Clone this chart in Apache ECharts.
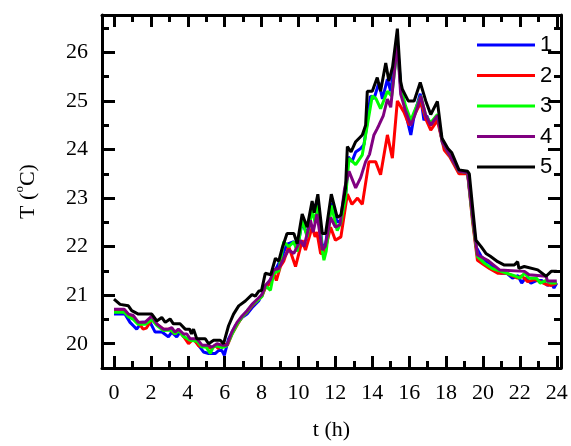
<!DOCTYPE html>
<html>
<head>
<meta charset="utf-8">
<script src="https://cdn.jsdelivr.net/npm/echarts@6/dist/echarts.min.js"></script>
<style>html,body{margin:0;padding:0;background:#fff}#c{width:571px;height:446px}</style>
</head>
<body>
<div id="c"></div>
<script>
const seriesNames = ['1', '2', '3', '4', '5'];
const seriesColors = ['#0000ff', '#ff0000', '#00ff00', '#800080', '#000000'];
const xMajorTicks = [0, 2, 4, 6, 8, 10, 12, 14, 16, 18, 20, 22, 24];
const xMinorTicks = [1, 3, 5, 7, 9, 11, 13, 15, 17, 19, 21, 23];
const yMajorTicks = [20, 21, 22, 23, 24, 25, 26];
const yMinorTicks = [20.5, 21.5, 22.5, 23.5, 24.5, 25.5, 26.5];

// [t (h), T (°C)]
const s1 = [[0,20.61],[0.6,20.61],[0.87,20.44],[1.05,20.37],[1.23,20.3],[1.5,20.44],[1.96,20.44],[2.23,20.24],[2.6,20.24],[2.95,20.14],[3.13,20.24],[3.4,20.14],[3.58,20.24],[3.8,20.14],[4.04,20.07],[4.4,20.07],[4.58,19.97],[4.85,19.83],[5.13,19.8],[5.5,19.8],[5.67,19.86],[5.85,19.86],[5.98,19.76],[6.21,20.1],[6.58,20.37],[6.94,20.54],[7.21,20.61],[7.48,20.74],[7.84,20.88],[8.2,21.15],[8.48,21.32],[8.75,21.52],[9.02,21.72],[9.38,22.05],[9.75,22.1],[9.93,21.95],[10.2,22.5],[10.47,22.25],[10.74,22.8],[11.05,22.9],[11.29,22.0],[11.47,22.05],[11.78,22.9],[12.1,22.5],[12.3,22.55],[12.55,23.0],[12.7,23.85],[12.9,23.75],[13.1,23.95],[13.37,24.02],[13.55,24.1],[13.73,24.57],[13.9,25.1],[14.1,25.05],[14.36,25.38],[14.55,25.04],[14.82,25.45],[15.0,25.2],[15.1,25.5],[15.36,26.2],[15.54,25.3],[15.7,25.0],[15.9,24.6],[16.09,24.3],[16.27,24.7],[16.6,25.15],[16.8,24.6],[16.95,24.7],[17.17,24.5],[17.53,24.7],[17.8,24.15],[18.1,23.95],[18.7,23.55],[19.17,23.52],[19.44,22.6],[19.62,22.0],[19.9,21.8],[20.16,21.7],[20.4,21.65],[20.7,21.5],[21.0,21.45],[21.3,21.45],[21.6,21.35],[21.9,21.4],[22.1,21.25],[22.3,21.35],[22.6,21.25],[22.9,21.3],[23.2,21.3],[23.5,21.2],[23.7,21.25],[23.85,21.15],[24.0,21.25]];
const s2 = [[0,20.7],[0.55,20.7],[0.78,20.6],[1.05,20.55],[1.3,20.45],[1.58,20.3],[1.75,20.32],[2.05,20.5],[2.32,20.4],[2.68,20.3],[3.0,20.3],[3.31,20.2],[3.49,20.28],[3.77,20.15],[4.04,20.0],[4.3,20.1],[4.6,19.95],[5.0,19.95],[5.3,19.9],[5.5,19.97],[5.65,19.9],[5.9,20.0],[6.15,19.97],[6.4,20.2],[6.7,20.4],[6.94,20.55],[7.21,20.65],[7.48,20.78],[7.75,20.88],[8.02,20.98],[8.2,21.15],[8.48,21.25],[8.66,21.45],[8.8,21.3],[9.02,21.59],[9.2,21.7],[9.47,22.0],[9.84,21.59],[10.2,22.13],[10.38,21.93],[10.74,22.4],[10.9,22.2],[11.0,22.3],[11.2,21.86],[11.4,21.86],[11.74,22.4],[12.0,22.13],[12.3,22.2],[12.65,23.08],[12.9,22.87],[13.2,23.0],[13.46,22.87],[13.82,23.75],[14.18,23.75],[14.45,23.48],[14.82,24.3],[15.09,23.82],[15.36,25.0],[15.72,24.77],[16.0,24.5],[16.27,24.7],[16.63,24.97],[16.9,24.63],[17.17,24.4],[17.53,24.6],[17.9,23.99],[18.2,23.85],[18.7,23.5],[19.17,23.5],[19.44,22.5],[19.7,21.72],[20.07,21.62],[20.35,21.55],[20.8,21.45],[21.3,21.45],[21.88,21.35],[22.1,21.4],[22.42,21.28],[22.8,21.32],[23.1,21.28],[23.42,21.22],[23.7,21.2],[24.0,21.25]];
const s3 = [[0,20.65],[0.55,20.65],[0.8,20.55],[1.05,20.5],[1.3,20.4],[1.7,20.4],[2.05,20.5],[2.32,20.38],[2.68,20.27],[3.1,20.28],[3.31,20.2],[3.5,20.27],[3.77,20.15],[4.13,20.07],[4.5,20.05],[4.77,19.93],[5.0,19.93],[5.22,19.8],[5.4,19.95],[5.6,19.95],[5.86,19.92],[6.1,19.95],[6.4,20.2],[6.7,20.42],[6.94,20.55],[7.21,20.66],[7.48,20.8],[7.75,20.88],[8.02,20.97],[8.2,21.2],[8.48,21.1],[8.66,21.45],[8.93,21.5],[9.2,22.1],[9.47,22.0],[9.75,22.1],[9.93,21.9],[10.2,22.55],[10.47,22.2],[10.74,22.75],[10.9,22.5],[11.05,22.85],[11.3,21.9],[11.38,21.72],[11.5,21.9],[11.78,22.85],[12.1,22.33],[12.3,22.5],[12.55,23.0],[12.74,23.82],[13.1,23.69],[13.46,23.89],[13.64,24.3],[14.0,25.1],[14.2,25.05],[14.45,24.84],[14.82,25.2],[15.05,25.1],[15.36,26.1],[15.54,25.3],[15.8,24.9],[16.09,24.6],[16.3,24.8],[16.63,25.1],[16.9,24.7],[17.17,24.55],[17.53,24.72],[17.8,24.15],[18.1,23.95],[18.7,23.55],[19.17,23.52],[19.44,22.55],[19.7,21.8],[20.1,21.65],[20.5,21.55],[20.9,21.5],[21.3,21.45],[21.7,21.4],[22.0,21.35],[22.25,21.45],[22.5,21.35],[22.9,21.35],[23.1,21.25],[23.4,21.3],[23.7,21.25],[24.0,21.25]];
const s4 = [[0,20.71],[0.55,20.71],[0.78,20.61],[1.05,20.58],[1.32,20.44],[1.68,20.44],[2.05,20.57],[2.32,20.41],[2.68,20.3],[2.95,20.3],[3.13,20.33],[3.31,20.24],[3.49,20.3],[3.77,20.2],[3.95,20.2],[4.13,20.1],[4.5,20.1],[4.77,19.97],[5.1,19.97],[5.31,19.93],[5.58,20.0],[5.86,19.97],[6.12,19.97],[6.39,20.24],[6.67,20.44],[6.94,20.57],[7.21,20.68],[7.48,20.81],[7.75,20.91],[8.02,21.01],[8.2,21.2],[8.48,21.32],[8.66,21.52],[8.93,21.55],[9.2,21.76],[9.47,21.93],[9.75,21.86],[10.1,22.13],[10.3,22.0],[10.65,22.54],[10.8,22.3],[11.0,22.67],[11.29,21.93],[11.45,22.0],[11.74,22.6],[12.0,22.4],[12.25,22.45],[12.5,23.2],[12.74,23.55],[13.1,23.21],[13.37,23.42],[13.64,23.75],[13.85,23.9],[14.09,24.3],[14.27,24.43],[14.36,24.5],[14.6,24.7],[14.82,25.04],[15.0,24.87],[15.36,26.2],[15.54,25.14],[15.8,24.8],[16.09,24.5],[16.3,24.7],[16.63,25.1],[16.9,24.7],[17.17,24.5],[17.53,24.7],[17.8,24.15],[18.1,23.95],[18.7,23.55],[19.17,23.52],[19.44,22.6],[19.7,21.83],[20.25,21.72],[20.9,21.52],[22.25,21.49],[22.5,21.42],[23.42,21.39],[23.5,21.29],[24.0,21.29]];
const s5 = [[0,20.92],[0.33,20.81],[0.78,20.78],[0.96,20.68],[1.32,20.61],[2.05,20.61],[2.32,20.47],[2.59,20.54],[2.78,20.44],[3.04,20.51],[3.22,20.41],[3.58,20.41],[3.86,20.3],[4.1,20.3],[4.2,20.2],[4.31,20.3],[4.49,20.1],[4.95,20.1],[5.13,20.0],[5.4,20.07],[5.76,20.07],[5.94,20.0],[6.21,20.37],[6.48,20.61],[6.76,20.78],[7.12,20.88],[7.48,21.01],[7.66,20.98],[7.84,21.08],[8.0,21.1],[8.2,21.45],[8.5,21.42],[8.75,21.76],[8.93,21.7],[9.11,21.96],[9.38,22.27],[9.75,22.27],[9.93,22.06],[10.2,22.67],[10.47,22.4],[10.74,22.94],[10.85,22.7],[11.05,23.08],[11.29,22.27],[11.47,22.27],[11.78,23.08],[12.1,22.6],[12.3,22.65],[12.55,23.2],[12.65,24.06],[12.85,23.95],[13.1,24.16],[13.46,24.3],[13.64,24.5],[13.73,25.2],[14.0,25.2],[14.27,25.48],[14.45,25.2],[14.73,25.78],[14.9,25.41],[15.1,25.7],[15.36,26.49],[15.54,25.4],[15.63,25.24],[15.95,25.0],[16.27,25.0],[16.6,25.38],[16.9,25.0],[17.17,24.72],[17.53,24.99],[17.78,24.23],[18.1,24.02],[18.3,23.94],[18.7,23.58],[19.17,23.55],[19.26,23.5],[19.44,22.8],[19.62,22.13],[19.9,22.0],[20.16,21.86],[20.4,21.8],[20.8,21.69],[21.16,21.62],[21.7,21.62],[21.88,21.69],[21.95,21.55],[22.24,21.59],[22.97,21.52],[23.42,21.39],[23.7,21.49],[24.0,21.49]];
const allSeries = [s1, s2, s3, s4, s5];

const X_MIN = -0.65, X_MAX = 24.23, Y_MIN = 19.5, Y_MAX = 26.77;
const serif = 'Liberation Serif';
const lineW = 3;

function xAx(pos, ticks, len, labels, line) {
  return {
    type: 'value', position: pos, min: X_MIN, max: X_MAX,
    splitLine: { show: false },
    axisLine: { show: line, onZero: false, lineStyle: { color: '#000', width: lineW } },
    axisTick: { show: true, inside: true, length: len, customValues: ticks, lineStyle: { color: '#000', width: lineW } },
    axisLabel: labels ? { show: true, customValues: ticks, fontFamily: serif, fontSize: 22, color: '#000', margin: 14 } : { show: false }
  };
}
function yAx(pos, ticks, len, labels, line) {
  return {
    type: 'value', position: pos, min: Y_MIN, max: Y_MAX,
    splitLine: { show: false },
    axisLine: { show: line, onZero: false, lineStyle: { color: '#000', width: lineW } },
    axisTick: { show: true, inside: true, length: len, customValues: ticks, lineStyle: { color: '#000', width: lineW } },
    axisLabel: labels ? { show: true, customValues: ticks, fontFamily: serif, fontSize: 22, color: '#000', margin: 14 } : { show: false }
  };
}

const xAxes = [
  xAx('bottom', xMajorTicks, 12, true, true),
  xAx('bottom', xMinorTicks, 7, false, false),
  xAx('top', xMajorTicks, 12, false, true),
  xAx('top', xMinorTicks, 7, false, false)
];
Object.assign(xAxes[0], { name: 't (h)', nameLocation: 'middle', nameGap: 51, nameTextStyle: { fontFamily: serif, fontSize: 22, color: '#000' } });
const yAxes = [
  yAx('left', yMajorTicks, 13, true, true),
  yAx('left', yMinorTicks, 7, false, false),
  yAx('right', yMajorTicks, 13, false, true),
  yAx('right', yMinorTicks, 7, false, false)
];
Object.assign(yAxes[0], {
  name: '{a|T (}{s|o}{a|C)}', nameLocation: 'middle', nameGap: 63,
  nameTextStyle: { fontFamily: serif, fontSize: 22, color: '#000',
    rich: { a: { fontFamily: serif, fontSize: 22, color: '#000', lineHeight: 26, verticalAlign: 'bottom' },
            s: { fontFamily: serif, fontSize: 13, color: '#000', lineHeight: 26, verticalAlign: 'top' } } }
});

const chart = echarts.init(document.getElementById('c'), null, { renderer: 'canvas' });
chart.setOption({
  animation: false,
  backgroundColor: '#fff',
  grid: { left: 102, right: 10, top: 15, bottom: 73, containLabel: false },
  xAxis: xAxes,
  yAxis: yAxes,
  legend: {
    orient: 'vertical', left: 472, top: 29, itemWidth: 58, itemHeight: 3, itemGap: 8.5,
    icon: 'rect',
    data: seriesNames,
    textStyle: { fontFamily: 'Liberation Sans', fontSize: 22, color: '#000' }
  },
  series: allSeries.map((d, i) => ({
    name: seriesNames[i], type: 'line', data: d, xAxisIndex: 0, yAxisIndex: 0,
    symbol: 'none', showSymbol: false, color: seriesColors[i],
    lineStyle: { color: seriesColors[i], width: 3 }, z: 2 + i
  }))
});
</script>
</body>
</html>
